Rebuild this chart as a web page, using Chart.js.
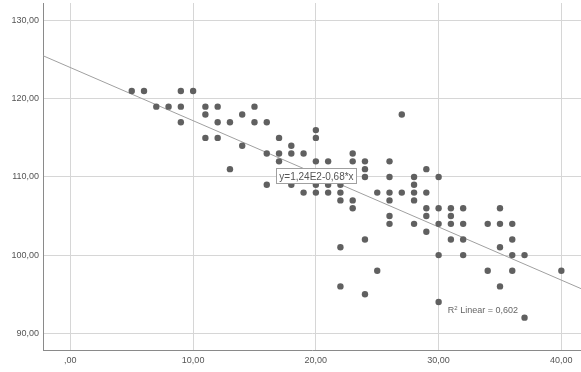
<!DOCTYPE html>
<html>
<head>
<meta charset="utf-8">
<script src="https://cdn.jsdelivr.net/npm/chart.js@4/dist/chart.umd.min.js"></script>
<style>
    html, body { margin: 0; padding: 0; background: #fff; }
    #wrap { width: 581px; height: 372px; }
</style>
</head>
<body>
<div id="wrap"><canvas id="scatterChart" width="581" height="372"></canvas></div>
<script>
const xValues = [
    5, 6, 7, 8, 9, 9, 9, 10,
    11, 11, 11, 12, 12, 12, 13, 13, 14, 14, 15, 15,
    16, 16, 16, 17, 17, 17, 18, 18, 18, 19, 19,
    20, 20, 20, 20, 20, 21, 21, 21, 22, 22, 22, 22, 22,
    23, 23, 23, 23, 24, 24, 24, 24, 24, 25, 25,
    26, 26, 26, 26, 26, 26, 27, 27, 28, 28, 28, 28, 28,
    29, 29, 29, 29, 29, 30, 30, 30, 30, 30,
    31, 31, 31, 31, 32, 32, 32, 32, 34, 34,
    35, 35, 35, 35, 36, 36, 36, 36, 37, 37, 40
];
const yValues = [
    121, 121, 119, 119, 121, 119, 117, 121,
    119, 118, 115, 119, 117, 115, 117, 111, 118, 114, 119, 117,
    117, 113, 109, 115, 113, 112, 114, 113, 109, 113, 108,
    116, 115, 112, 109, 108, 112, 109, 108, 109, 108, 107, 101, 96,
    113, 112, 107, 106, 112, 111, 110, 102, 95, 108, 98,
    112, 110, 108, 107, 105, 104, 118, 108, 110, 109, 108, 107, 104,
    111, 108, 106, 105, 103, 110, 106, 104, 100, 94,
    106, 105, 104, 102, 106, 104, 102, 100, 104, 98,
    106, 104, 101, 96, 104, 102, 100, 98, 100, 92, 98
];

const xTicks = [0, 10, 20, 30, 40];
const xTickLabels = [',00', '10,00', '20,00', '30,00', '40,00'];
const yTicks = [90, 100, 110, 120, 130];
const yTickLabels = ['90,00', '100,00', '110,00', '120,00', '130,00'];

// linear fit reported by the chart
const fitIntercept = 124;
const fitSlope = -0.68;
const fitLabel = 'y=1,24E2-0,68*x';
const r2Value = '0,602';

const X_MIN = -2.23, X_MAX = 41.6;
const Y_MIN = 87.86, Y_MAX = 132.26;

const points = xValues.map((x, i) => ({ x: x, y: yValues[i] }));
const fitLine = [X_MIN, X_MAX].map(x => ({ x: x, y: fitIntercept + fitSlope * x }));

const FONT = '"Liberation Sans", Arial, sans-serif';

const labelsPlugin = {
    id: 'fitLabels',
    afterDatasetsDraw(chart) {
        const ctx = chart.ctx;
        const xs = chart.scales.x, ys = chart.scales.y;
        ctx.save();

        // equation box
        ctx.font = '10px ' + FONT;
        const w = Math.round(ctx.measureText(fitLabel).width + 6);
        const h = 15;
        const cx = xs.getPixelForValue(20.05);
        const cy = ys.getPixelForValue(110.15);
        const bx = Math.round(cx - w / 2) + 0.5, by = Math.round(cy - h / 2) + 0.5;
        ctx.fillStyle = '#fff';
        ctx.fillRect(bx, by, w, h);
        ctx.strokeStyle = '#a0a0a0';
        ctx.lineWidth = 1;
        ctx.strokeRect(bx, by, w, h);
        ctx.fillStyle = '#555';
        ctx.textAlign = 'center';
        ctx.textBaseline = 'middle';
        ctx.fillText(fitLabel, cx, cy + 1);

        // R squared note
        let px = xs.getPixelForValue(30.75);
        const py = ys.getPixelForValue(92.85);
        ctx.textAlign = 'left';
        ctx.fillStyle = '#666';
        ctx.font = '9px ' + FONT;
        ctx.fillText('R', px, py);
        px += ctx.measureText('R').width;
        ctx.font = '6px ' + FONT;
        ctx.fillText('2', px, py - 3);
        px += ctx.measureText('2').width;
        ctx.font = '9px ' + FONT;
        ctx.fillText(' Linear = ' + r2Value, px, py);

        ctx.restore();
    }
};

function noScalePadding(scale) {
    scale.paddingTop = 0;
    scale.paddingBottom = 0;
    scale.paddingLeft = 0;
    scale.paddingRight = 0;
}

new Chart(document.getElementById('scatterChart'), {
    type: 'scatter',
    data: {
        datasets: [
            {
                type: 'line',
                data: fitLine,
                borderColor: '#a0a0a0',
                borderWidth: 1,
                pointRadius: 0,
                fill: false,
                order: 2
            },
            {
                data: points,
                backgroundColor: '#606060',
                borderColor: '#606060',
                borderWidth: 0,
                pointRadius: 3.2,
                order: 1
            }
        ]
    },
    options: {
        responsive: false,
        animation: false,
        layout: { autoPadding: false, padding: { top: 3, left: 0, right: 0, bottom: 0 } },
        plugins: {
            legend: { display: false },
            tooltip: { enabled: false }
        },
        scales: {
            x: {
                type: 'linear',
                min: X_MIN,
                max: X_MAX,
                afterBuildTicks: (scale) => { scale.ticks = xTicks.map(v => ({ value: v })); },
                afterFit: (scale) => { scale.height = 22; noScalePadding(scale); },
                grid: { color: '#d6d6d6', lineWidth: 1, drawTicks: false },
                border: { display: true, color: '#8a8a8a', width: 1 },
                ticks: {
                    padding: 5,
                    color: '#555',
                    font: { family: FONT, size: 9 },
                    maxRotation: 0,
                    callback: (value, i) => xTickLabels[i]
                }
            },
            y: {
                type: 'linear',
                min: Y_MIN,
                max: Y_MAX,
                afterBuildTicks: (scale) => { scale.ticks = yTicks.map(v => ({ value: v })); },
                afterFit: (scale) => { scale.width = 43; noScalePadding(scale); },
                grid: { color: '#d6d6d6', lineWidth: 1, drawTicks: false },
                border: { display: true, color: '#8a8a8a', width: 1 },
                ticks: {
                    padding: 4,
                    color: '#555',
                    font: { family: FONT, size: 9 },
                    callback: (value, i) => yTickLabels[i]
                }
            }
        }
    },
    plugins: [labelsPlugin]
});
</script>
</body>
</html>
